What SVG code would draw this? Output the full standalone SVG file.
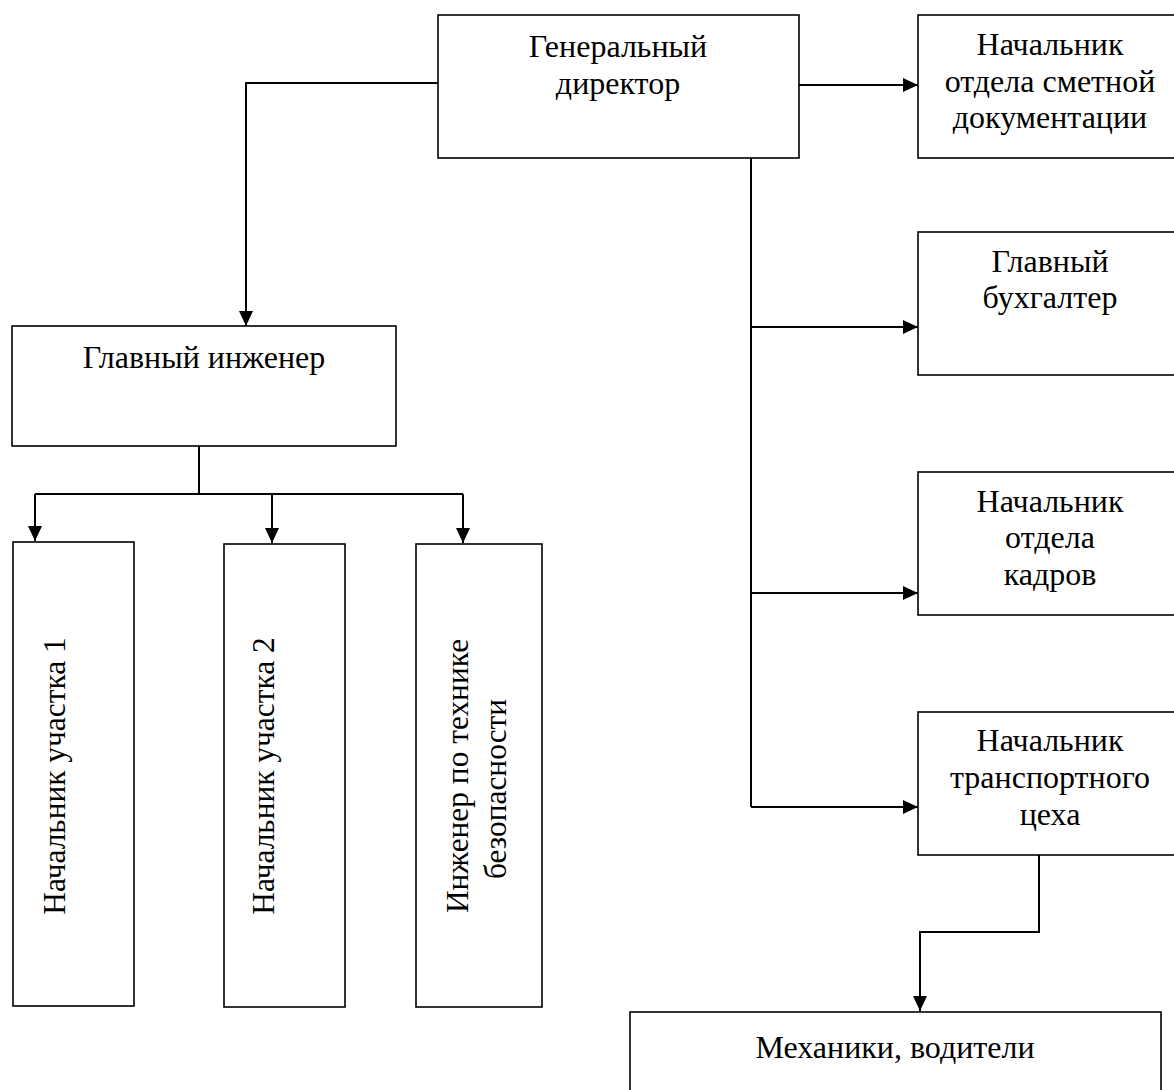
<svg xmlns="http://www.w3.org/2000/svg" width="1174" height="1090" viewBox="0 0 1174 1090">
<style>
.box{fill:#fff;stroke:#000;stroke-width:1.6}
.t{font-family:"Liberation Serif","Times New Roman",serif;font-size:32px;fill:#000;text-anchor:middle}
.v{font-size:31.4px}
.c{fill:none;stroke:#000;stroke-width:2}
.a{marker-end:url(#arr)}
</style>
<defs>
<marker id="arr" markerUnits="userSpaceOnUse" markerWidth="16" markerHeight="15" refX="15" refY="7" orient="auto">
<path d="M0,0 L15,7 L0,14 z" fill="#000"/>
</marker>
</defs>
<rect width="1174" height="1090" fill="#fff"/>
<g id="connectors">
<polyline class="c a" points="438,83 246,83 246,326"/>
<line class="c a" x1="799" y1="85" x2="918" y2="85"/>
<line class="c" x1="751" y1="158" x2="751" y2="807"/>
<line class="c a" x1="751" y1="327" x2="918" y2="327"/>
<line class="c a" x1="751" y1="593" x2="918" y2="593"/>
<line class="c a" x1="751" y1="807" x2="918" y2="807"/>
<line class="c" x1="199" y1="446" x2="199" y2="494"/>
<line class="c" x1="35" y1="494" x2="463" y2="494"/>
<line class="c a" x1="35" y1="494" x2="35" y2="541"/>
<line class="c a" x1="272" y1="494" x2="272" y2="543"/>
<line class="c a" x1="463" y1="494" x2="463" y2="543"/>
<polyline class="c a" points="1039,855 1039,932 920,932 920,1011"/>
</g>
<g id="director">
<rect class="box" x="438" y="15" width="361" height="143"/>
<text class="t" x="618" y="57">Генеральный</text>
<text class="t" x="618" y="94">директор</text>
</g>
<g id="smeta">
<rect class="box" x="918" y="15" width="270" height="143"/>
<text class="t" x="1050" y="55">Начальник</text>
<text class="t" x="1050" y="92">отдела сметной</text>
<text class="t" x="1050" y="128">документации</text>
</g>
<g id="buh">
<rect class="box" x="918" y="232" width="270" height="143"/>
<text class="t" x="1050" y="272">Главный</text>
<text class="t" x="1050" y="308">бухгалтер</text>
</g>
<g id="kadry">
<rect class="box" x="918" y="472" width="270" height="143"/>
<text class="t" x="1050" y="512">Начальник</text>
<text class="t" x="1050" y="548">отдела</text>
<text class="t" x="1050" y="585">кадров</text>
</g>
<g id="transport">
<rect class="box" x="918" y="712" width="270" height="143"/>
<text class="t" x="1050" y="751">Начальник</text>
<text class="t" x="1050" y="788">транспортного</text>
<text class="t" x="1050" y="825">цеха</text>
</g>
<g id="mechanics">
<rect class="box" x="630" y="1012" width="531" height="100"/>
<text class="t" x="895" y="1058">Механики, водители</text>
</g>
<g id="chief-engineer">
<rect class="box" x="12" y="326" width="384" height="120"/>
<text class="t" x="204" y="368">Главный инженер</text>
</g>
<g id="site1">
<rect class="box" x="13" y="542" width="121" height="464"/>
<text class="t v" transform="translate(65,776) rotate(-90)">Начальник участка 1</text>
</g>
<g id="site2">
<rect class="box" x="224" y="544" width="121" height="463"/>
<text class="t v" transform="translate(274,776) rotate(-90)">Начальник участка 2</text>
</g>
<g id="safety">
<rect class="box" x="416" y="544" width="126" height="463"/>
<text class="t v" transform="translate(468,776) rotate(-90)">Инженер по технике</text>
<text class="t v" transform="translate(506,789) rotate(-90)">безопасности</text>
</g>
</svg>
